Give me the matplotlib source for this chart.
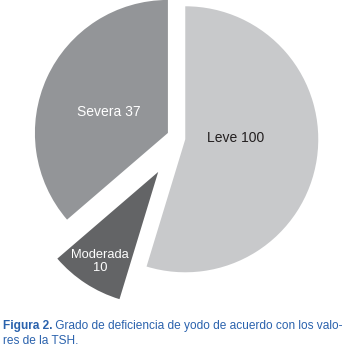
import matplotlib
matplotlib.use("Agg")
import matplotlib.pyplot as plt
from matplotlib import font_manager

# data
categories = ["Leve", "Moderada", "Severa"]
counts = [100, 10, 37]
# share of the circle each wedge takes in the drawing (estimated from angles)
shares = [54.7, 9.0, 36.3]
colors = ["#c8c9cb", "#636466", "#939598"]
caption_bold = "Figura 2."
caption_rest = " Grado de deficiencia de yodo de acuerdo con los valo-"
caption_line2 = "res de la TSH."

names = {f.name for f in font_manager.fontManager.ttflist}
font = "Liberation Sans Narrow" if "Liberation Sans Narrow" in names else "Liberation Sans"
plt.rcParams["font.family"] = [font, "DejaVu Sans"]

W, H = 351, 348
fig = plt.figure(figsize=(W / 100, H / 100), dpi=100)
ax = fig.add_axes([0, 0, 1, 1])

# pie centre and radius in pixels
cx, cy, r = 180, 138.5, 133.0

wedges, _ = ax.pie(shares, colors=colors, startangle=90, counterclock=False,
                   explode=[0.04, 0.30, 0.10], radius=1,
                   wedgeprops=dict(linewidth=0))
ax.set_xlim(-cx / r, (W - cx) / r)
ax.set_ylim(-(H - cy) / r, cy / r)
ax.set_aspect("auto")
ax.axis("off")


def px(x, y):
    return (x - cx) / r, (cy - y) / r


narrow = "Narrow" in font
lab_fs = 10.5 if narrow else 10
x, y = px(235.5, 138.5)
ax.text(x, y, f"{categories[0]} {counts[0]}", ha="center", va="center",
        fontsize=lab_fs, color="#231f20")
x, y = px(109, 112.5)
ax.text(x, y, f"{categories[2]} {counts[2]}", ha="center", va="center",
        fontsize=lab_fs, color="white")
x, y = px(100, 261.5)
ax.text(x, y, f"{categories[1]}\n{counts[1]}", ha="center", va="center",
        fontsize=lab_fs if narrow else 9.3, color="white", linespacing=1.2)

# caption
blue = "#2a62ad"
cap_fs = 9.3 if narrow else 8.6
t1 = fig.text(3 / W, 1 - 329 / H, caption_bold, fontsize=cap_fs,
              fontweight="bold", color=blue, va="baseline")
fig.canvas.draw()
bb = t1.get_window_extent()
fig.text(bb.x1 / W, 1 - 329 / H, caption_rest, fontsize=cap_fs,
         color=blue, va="baseline")
fig.text(3 / W, 1 - 344 / H, caption_line2, fontsize=cap_fs,
         color=blue, va="baseline")

fig.savefig("out.png", dpi=100, facecolor="white")
